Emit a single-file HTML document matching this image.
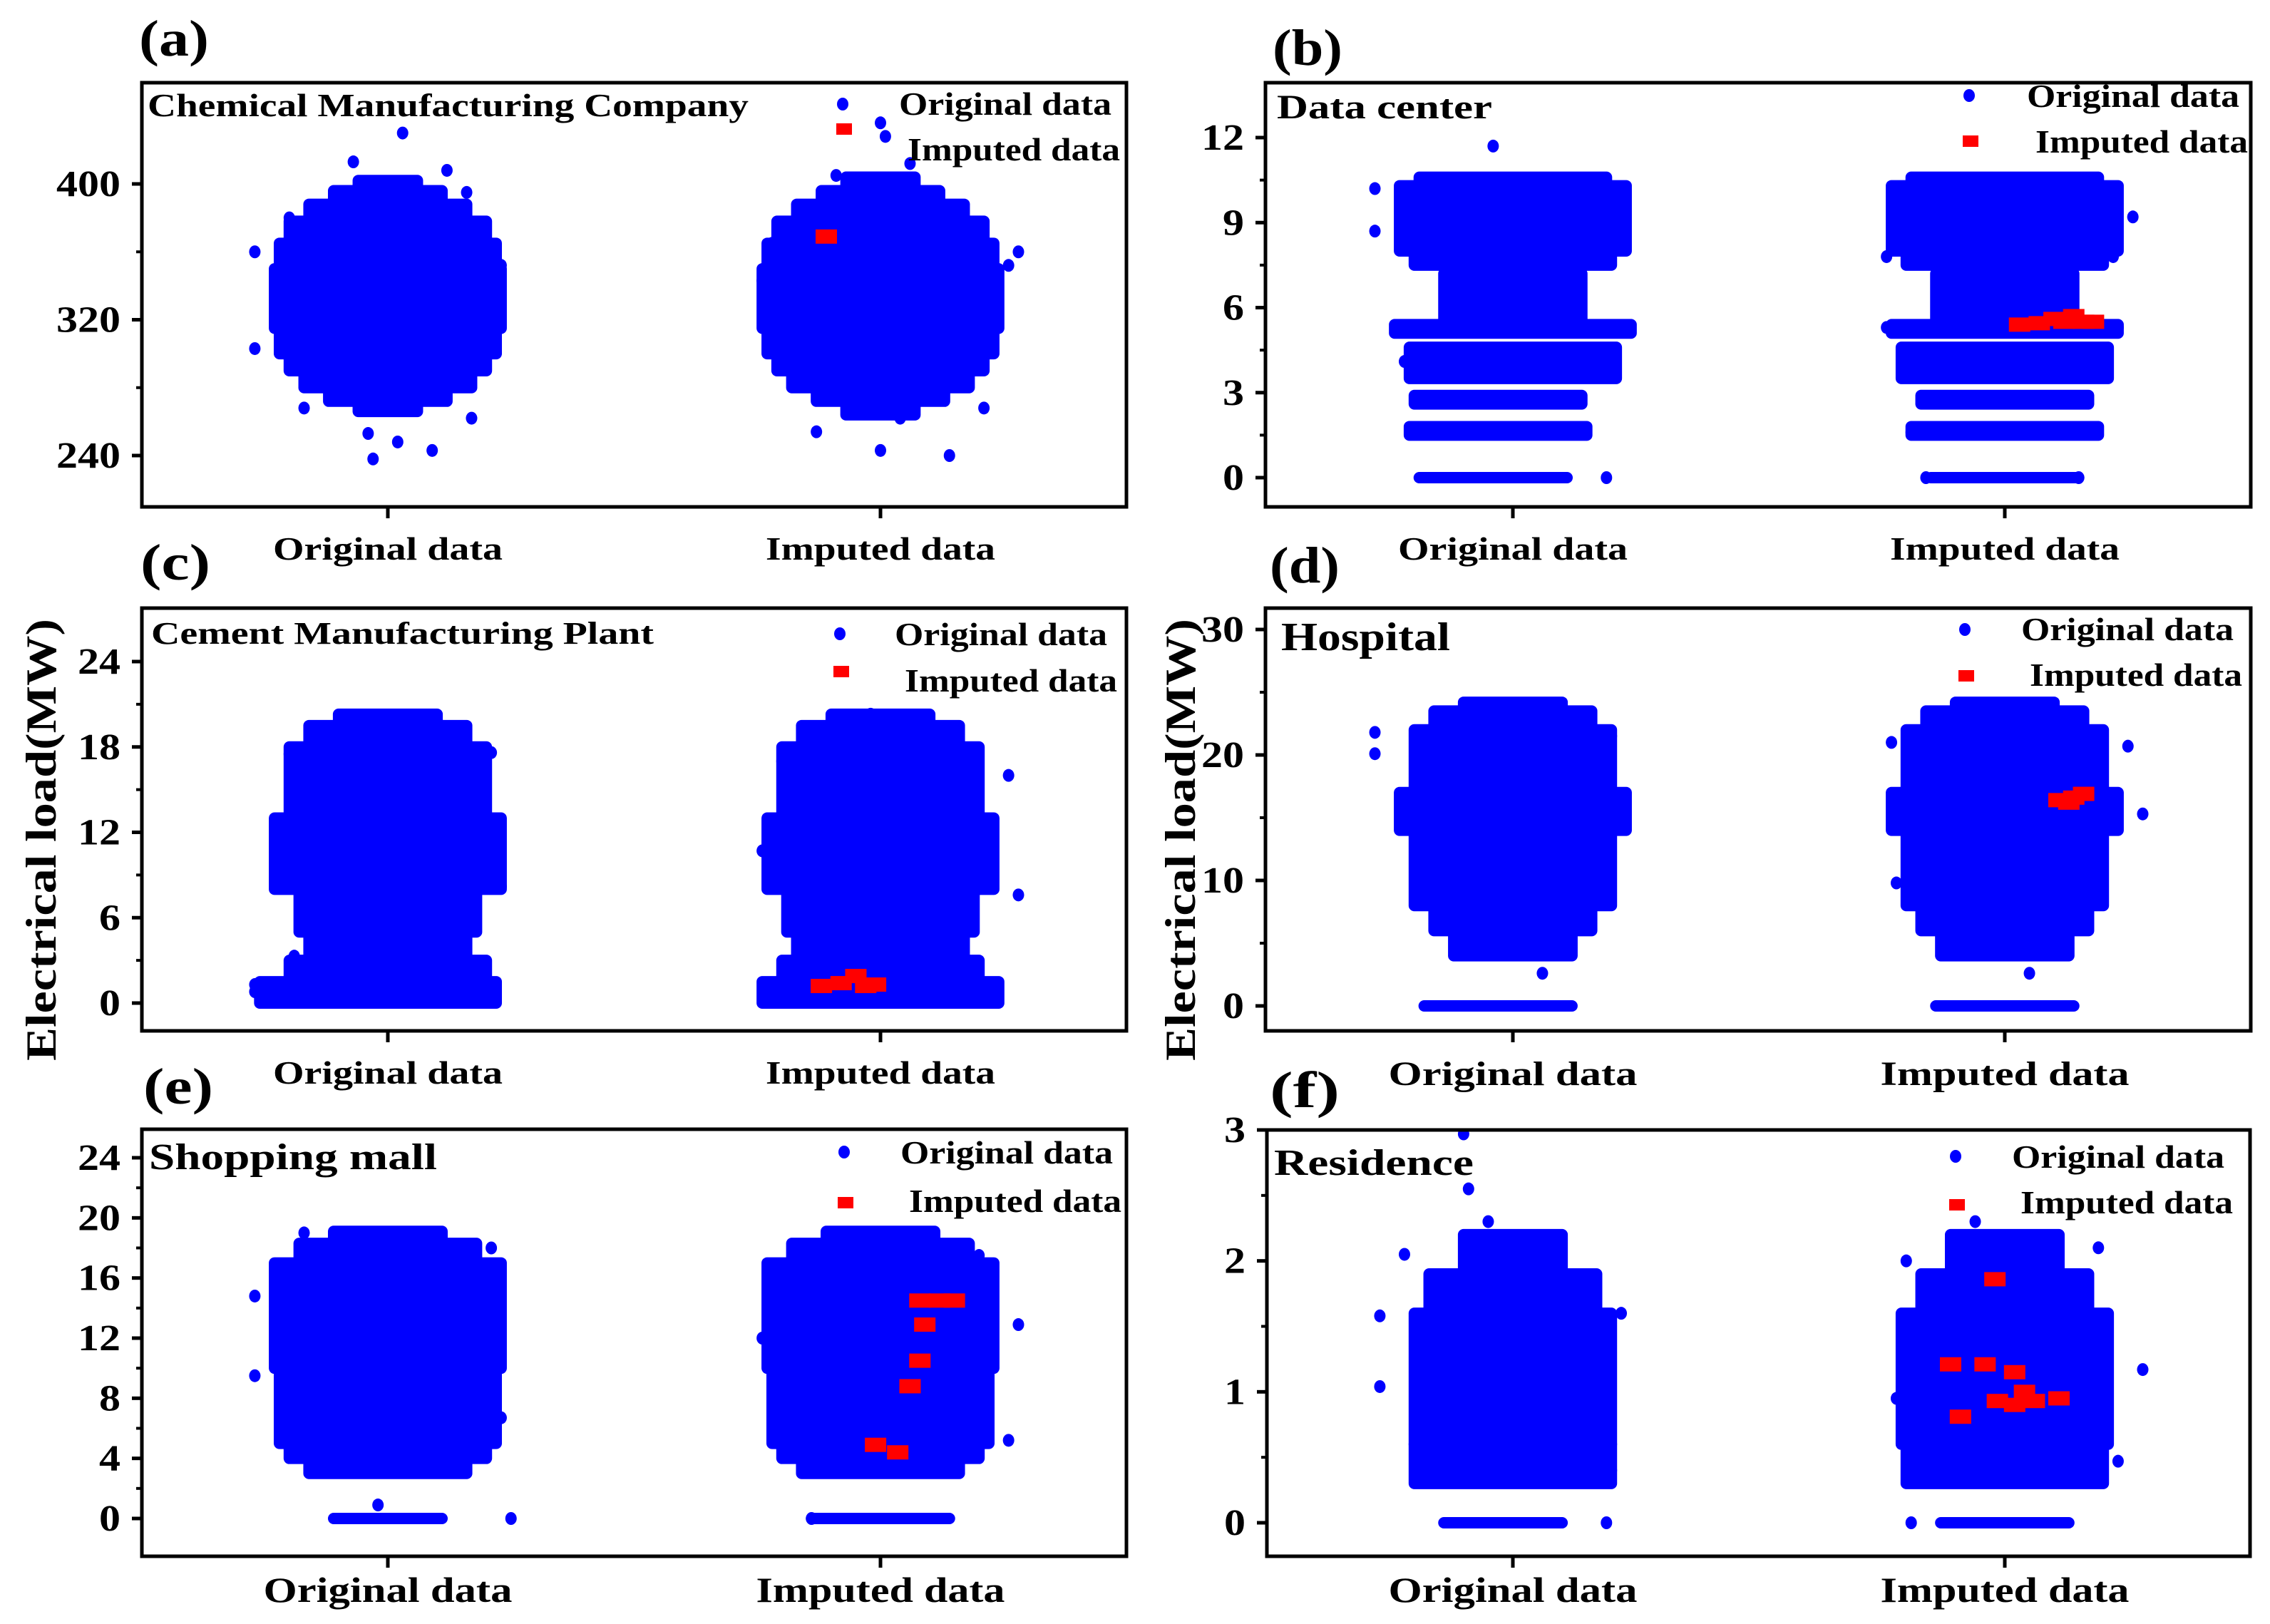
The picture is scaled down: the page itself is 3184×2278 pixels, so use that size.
<!DOCTYPE html>
<html><head><meta charset="utf-8"><style>
html,body{margin:0;padding:0;background:#fff}
svg{display:block}
text{font-family:"Liberation Serif",serif;font-weight:bold;fill:#000}
</style></head><body>
<svg id="chart" width="3184" height="2278" viewBox="0 0 3184 2278" xmlns="http://www.w3.org/2000/svg"></svg>
<script>
// ---------- DATA ----------
const categories = ["Original data", "Imputed data"];
// bands: [valueLow, valueHigh, centerOffset(category units), halfWidth(category units)]
// outliers: [offset, value]; imputed (red): [offset, value]
const aTicks = [240, 320, 400];
const aMinor = [280, 360];
const aOrigBands = [[266,272,0,0.06],[272,280,0,0.12],[280,290,0,0.17],[290,300,0,0.2],[300,315,0,0.22],[315,350,0,0.23],[350,365,0,0.22],[365,378,0,0.2],[378,388,0,0.16],[388,396,0,0.11],[396,402,0,0.06]];
const aImpBands = [[264,272,0,0.07],[272,280,0,0.13],[280,290,0,0.18],[290,300,0,0.21],[300,315,0,0.23],[315,350,0,0.24],[350,365,0,0.23],[365,378,0,0.21],[378,388,0,0.17],[388,396,0,0.12],[396,404,0,0.07]];
const aOrigOut = [[-0.27,360],[-0.27,303],[0.03,430],[-0.07,413],[0.12,408],[-0.17,268],[-0.04,253],[0.02,248],[-0.03,238],[0.09,243],[0.17,262],[0.19,305],[0.23,352],[-0.2,380],[0.16,395]];
const aImpOut = [[0,436],[0.01,428],[-0.09,405],[0.28,360],[-0.24,343],[-0.19,296],[-0.13,254],[0,243],[0.14,240],[0.21,268],[0.23,318],[0.04,262],[0.06,412],[-0.22,365],[0.26,352]];
const aRed = [[-0.11,369]];

const bTicks = [0, 3, 6, 9, 12];
const bMinor = [1.5, 4.5, 7.5, 10.5];
const bOrigBands = [[0,0,-0.04,0.15],[1.5,1.8,-0.03,0.18],[2.6,2.9,-0.03,0.17],[3.5,4.6,0,0.21],[5.1,5.4,0,0.24],[5.6,7.2,0,0.14],[7.5,8.0,0,0.2],[8.0,10.3,0,0.23],[10.3,10.6,0,0.19]];
const bImpBands = [[0,0,0.0,0.15],[1.5,1.8,0,0.19],[2.6,2.9,0,0.17],[3.5,4.6,0,0.21],[5.1,5.4,0,0.23],[5.6,7.2,0,0.14],[7.5,8.0,0,0.2],[8.0,10.3,0,0.23],[10.3,10.6,0,0.19]];
const bOrigOut = [[-0.28,10.2],[-0.28,8.7],[-0.04,11.7],[0.19,0],[0.22,9.7],[0.2,5.3],[-0.22,4.1]];
const bImpOut = [[0.26,9.2],[-0.24,7.8],[0.22,7.8],[-0.19,1.6],[-0.16,0],[0.15,0],[-0.24,5.3],[0.23,5.3]];
const bRed = [[0.03,5.4],[0.07,5.45],[0.1,5.6],[0.12,5.5],[0.14,5.7],[0.16,5.5],[0.18,5.5]];

const cTicks = [0, 6, 12, 18, 24];
const cMinor = [3, 9, 15, 21];
const cOrigBands = [[0,1.5,-0.02,0.24],[1.5,3,0,0.2],[3,5,0,0.16],[5,8,0,0.18],[8,13,0,0.23],[13,18,0,0.2],[18,19.5,0,0.16],[19.5,20.3,0,0.1]];
const cImpBands = [[0,1.5,0,0.24],[1.5,3,0,0.2],[3,5,0,0.17],[5,8,0,0.19],[8,13,0,0.23],[13,18,0,0.2],[18,19.5,0,0.16],[19.5,20.3,0,0.1]];
const cOrigOut = [[-0.27,1.3],[-0.27,0.8],[-0.22,11.5],[0.23,8.2],[0.21,17.6],[-0.2,17.5],[0.2,0.9],[-0.19,3.3]];
const cImpOut = [[0.28,7.6],[0.26,16],[-0.24,10.7],[-0.2,17],[-0.23,0.8],[0.23,0.8],[-0.02,20.3]];
const cRed = [[-0.12,1.2],[-0.08,1.4],[-0.05,1.9],[-0.03,1.2],[-0.01,1.3]];

const dTicks = [0, 10, 20, 30];
const dMinor = [5, 15, 25];
const dOrigBands = [[0,0,-0.03,0.15],[4,6,0,0.12],[6,8,0,0.16],[8,14,0,0.2],[14,17,0,0.23],[17,22,0,0.2],[22,23.5,0,0.16],[23.5,24.2,0,0.1]];
const dImpBands = [[0,0,0,0.14],[4,6,0,0.13],[6,8,0,0.17],[8,14,0,0.2],[14,17,0,0.23],[17,22,0,0.2],[22,23.5,0,0.16],[23.5,24.2,0,0.1]];
const dOrigOut = [[-0.28,21.8],[-0.28,20.1],[0.22,15.5],[0.06,2.6],[0.2,21.5]];
const dImpOut = [[0.25,20.7],[0.28,15.3],[-0.22,9.8],[-0.23,21],[0.05,2.6]];
const dRed = [[0.11,16.4],[0.14,16.6],[0.16,16.9],[0.13,16.2]];

const eTicks = [0, 4, 8, 12, 16, 20, 24];
const eMinor = [2, 6, 10, 14, 18, 22];
const eOrigBands = [[0,0,0,0.11],[3,4,0,0.16],[4,5,0,0.2],[5,10,0,0.22],[10,17,0,0.23],[17,18.3,0,0.18],[18.3,19.1,0,0.11]];
const eImpBands = [[0,0,0,0.14],[3,4,0,0.16],[4,5,0,0.2],[5,10,0,0.22],[10,17,0,0.23],[17,18.3,0,0.18],[18.3,19.1,0,0.11]];
const eOrigOut = [[-0.27,9.5],[-0.27,14.8],[-0.17,19],[0.21,18],[0.23,6.7],[-0.02,0.9],[0.25,0]];
const eImpOut = [[0.28,12.9],[0.26,5.2],[-0.24,12],[-0.14,0],[0.2,17.5]];
const eRed = [[0.08,14.5],[0.12,14.5],[0.15,14.5],[0.09,12.9],[0.08,10.5],[0.06,8.8],[-0.01,4.9],[0.035,4.4]];

const fTicks = [0, 1, 2, 3];
const fMinor = [0.5, 1.5, 2.5];
const fOrigBands = [[0,0,-0.02,0.12],[0.3,0.6,0,0.2],[0.6,1.6,0,0.2],[1.6,1.9,0,0.17],[1.9,2.2,0,0.1]];
const fImpBands = [[0,0,0,0.13],[0.3,0.6,0,0.2],[0.6,1.6,0,0.21],[1.6,1.9,0,0.17],[1.9,2.2,0,0.11]];
const fOrigOut = [[-0.27,1.58],[-0.27,1.04],[-0.22,2.05],[-0.1,2.97],[-0.09,2.55],[0.22,1.6],[0.19,0],[0.2,0.4],[-0.05,2.3]];
const fImpOut = [[0.28,1.17],[0.23,0.47],[-0.22,0.95],[-0.19,0],[-0.06,2.3],[0.19,2.1],[-0.2,2.0]];
const fRed = [[-0.02,1.86],[-0.11,1.21],[-0.04,1.21],[0.02,1.15],[-0.015,0.93],[0.02,0.9],[0.04,1.0],[0.06,0.93],[0.11,0.95],[-0.09,0.81]];

// ---------- LAYOUT ----------
const NS = "http://www.w3.org/2000/svg";
const svg = document.getElementById("chart");
function mk(tag, attrs, parent) {
  const e = document.createElementNS(NS, tag);
  for (const k in attrs) e.setAttribute(k, attrs[k]);
  (parent || svg).appendChild(e);
  return e;
}
const R = 8;
const panels = [
  {id:"a", x0:199,x1:1580,y0:116,y1:711, cx:[544,1235], v:[240,639,400,258], ticks:aTicks, minor:aMinor, ob:aOrigBands, ib:aImpBands, oo:aOrigOut, io:aImpOut, red:aRed,
   title:"Chemical Manufacturing Company", tx:207,ty:163,tl:843,ts:46, lx:1182,ly:146, ltx:1261,lty:161, rly:181, l2x:1273,l2y:225, letter:[195,78], catY:785, catS:46, ylab:false},
  {id:"b", x0:1775,x1:3157,y0:116,y1:711, cx:[2122,2812], v:[0,670,12,193], ticks:bTicks, minor:bMinor, ob:bOrigBands, ib:bImpBands, oo:bOrigOut, io:bImpOut, red:bRed,
   title:"Data center", tx:1791,ty:166,tl:302,ts:48, lx:2762,ly:134, ltx:2843,lty:150, rly:198, l2x:2855,l2y:214, letter:[1785,91], catY:785, catS:46, ylab:false},
  {id:"c", x0:199,x1:1580,y0:853,y1:1446, cx:[544,1235], v:[0,1407,24,928], ticks:cTicks, minor:cMinor, ob:cOrigBands, ib:cImpBands, oo:cOrigOut, io:cImpOut, red:cRed,
   title:"Cement Manufacturing Plant", tx:212,ty:903,tl:705,ts:44, lx:1178,ly:889, ltx:1255,lty:905, rly:942, l2x:1269,l2y:970, letter:[197,813], catY:1520, catS:46, ylab:true},
  {id:"d", x0:1775,x1:3157,y0:853,y1:1446, cx:[2122,2812], v:[0,1411,30,883], ticks:dTicks, minor:dMinor, ob:dOrigBands, ib:dImpBands, oo:dOrigOut, io:dImpOut, red:dRed,
   title:"Hospital", tx:1797,ty:912,tl:237,ts:56, lx:2756,ly:883, ltx:2835,lty:898, rly:948, l2x:2847,l2y:962, letter:[1781,817], catY:1522, catS:48, ylab:true},
  {id:"e", x0:199,x1:1580,y0:1584,y1:2183, cx:[544,1235], v:[0,2130,24,1624], ticks:eTicks, minor:eMinor, ob:eOrigBands, ib:eImpBands, oo:eOrigOut, io:eImpOut, red:eRed,
   title:"Shopping mall", tx:209,ty:1640,tl:404,ts:52, lx:1184,ly:1616, ltx:1263,lty:1632, rly:1687, l2x:1275,l2y:1700, letter:[201,1548], catY:2247, catS:50, ylab:false},
  {id:"f", x0:1777,x1:3156,y0:1585,y1:2183, cx:[2122,2812], v:[0,2136,3,1585], ticks:fTicks, minor:fMinor, ob:fOrigBands, ib:fImpBands, oo:fOrigOut, io:fImpOut, red:fRed,
   title:"Residence", tx:1787,ty:1648,tl:280,ts:52, lx:2743,ly:1622, ltx:2822,lty:1638, rly:1690, l2x:2834,l2y:1702, letter:[1781,1553], catY:2247, catS:50, ylab:false},
];
const UNIT = 691;

panels.forEach(p => {
  const g = mk("g", {});
  
  
  const yS = val => p.v[1] + (val - p.v[0]) * (p.v[3] - p.v[1]) / (p.v[2] - p.v[0]);
  const xS = (ci, off) => p.cx[ci] + off * UNIT;

  const clip = mk("clipPath", {id:"clip-"+p.id}, g);
  mk("rect", {x:p.x0, y:p.y0, width:p.x1-p.x0, height:p.y1-p.y0}, clip);
  const plot = mk("g", {"clip-path":"url(#clip-"+p.id+")"}, g);

  [[p.ob,p.oo,0],[p.ib,p.io,1]].forEach(([bands, outs, ci]) => {
    const cg = mk("g", {fill:"#0000ff"}, plot);
    
    
    bands.forEach(b => {
      const yt = yS(b[1]) - R, yb = yS(b[0]) + R;
      const xl = xS(ci, b[2] - b[3]) - R, xr = xS(ci, b[2] + b[3]) + R;
      const r = mk("rect", {x:xl, y:yt, width:xr-xl, height:yb-yt, rx:R, ry:R}, cg);
      
      
    });
    outs.forEach(o => {
      const c = mk("ellipse", {cx:xS(ci,o[0]), cy:yS(o[1]), rx:R, ry:R+1}, cg);
      
      
    });
  });
  const rg = mk("g", {fill:"#ff0000"}, plot);
  
  
  p.red.forEach(o => {
    const s = mk("rect", {x:xS(1,o[0])-15, y:yS(o[1])-10, width:30, height:20}, rg);
    
    
  });

  const fr = mk("rect", {x:p.x0, y:p.y0, width:p.x1-p.x0, height:p.y1-p.y0, fill:"none", stroke:"#000", "stroke-width":5}, g);
  
  

  const yg = mk("g", {}, g);
  
  
  p.ticks.forEach(t => {
    const y = yS(t);
    mk("line", {x1:p.x0-14, x2:p.x0, y1:y, y2:y, stroke:"#000", "stroke-width":5}, yg);
    const s = String(t);
    const tx = mk("text", {x:p.x0-30, y:y+17, "font-size":52, "text-anchor":"end", textLength:s.length*30, lengthAdjust:"spacingAndGlyphs"}, yg);
    tx.textContent = s;
    
    
  });
  p.minor.forEach(t => {
    const y = yS(t);
    if (y > p.y0 && y < p.y1) mk("line", {x1:p.x0-8, x2:p.x0, y1:y, y2:y, stroke:"#000", "stroke-width":4}, yg);
  });
  const xg = mk("g", {}, g);
  
  
  categories.forEach((c, i) => {
    mk("line", {x1:p.cx[i], x2:p.cx[i], y1:p.y1, y2:p.y1+16, stroke:"#000", "stroke-width":5}, xg);
    const tx = mk("text", {x:p.cx[i], y:p.catY, "font-size":p.catS, "text-anchor":"middle", textLength: (p.catS>47?349:322), lengthAdjust:"spacingAndGlyphs"}, xg);
    tx.textContent = c;
    
    
  });

  const tt = mk("text", {x:p.tx, y:p.ty, "font-size":p.ts, textLength:p.tl, lengthAdjust:"spacingAndGlyphs"}, g);
  tt.textContent = p.title;
  
  
  const lt = mk("text", {x:p.letter[0], y:p.letter[1], "font-size":72, textLength:98, lengthAdjust:"spacingAndGlyphs"}, g);
  lt.textContent = "(" + p.id + ")";
  
  

  const lg = mk("g", {}, g);
  
  
  mk("ellipse", {cx:p.lx, cy:p.ly, rx:R, ry:R+1, fill:"#0000ff"}, lg);
  const l1 = mk("text", {x:p.ltx, y:p.lty, "font-size":46, textLength:298, lengthAdjust:"spacingAndGlyphs"}, lg);
  l1.textContent = "Original data";
  
  
  mk("rect", {x:p.lx-9, y:p.rly-8, width:22, height:16, fill:"#ff0000"}, lg);
  const l2 = mk("text", {x:p.l2x, y:p.l2y, "font-size":46, textLength:298, lengthAdjust:"spacingAndGlyphs"}, lg);
  l2.textContent = "Imputed data";
  
  

  if (p.ylab) {
    const cx = p.id === "c" ? 58 : 1656;
    const yl = mk("text", {x:cx, y:1178, "font-size":60, "text-anchor":"middle", transform:"rotate(-90 "+(cx)+" 1178)", dy:20, textLength:620, lengthAdjust:"spacingAndGlyphs"}, g);
    yl.textContent = "Electrical load(MW)";
    
    
  }
});
</script>
</body></html>
